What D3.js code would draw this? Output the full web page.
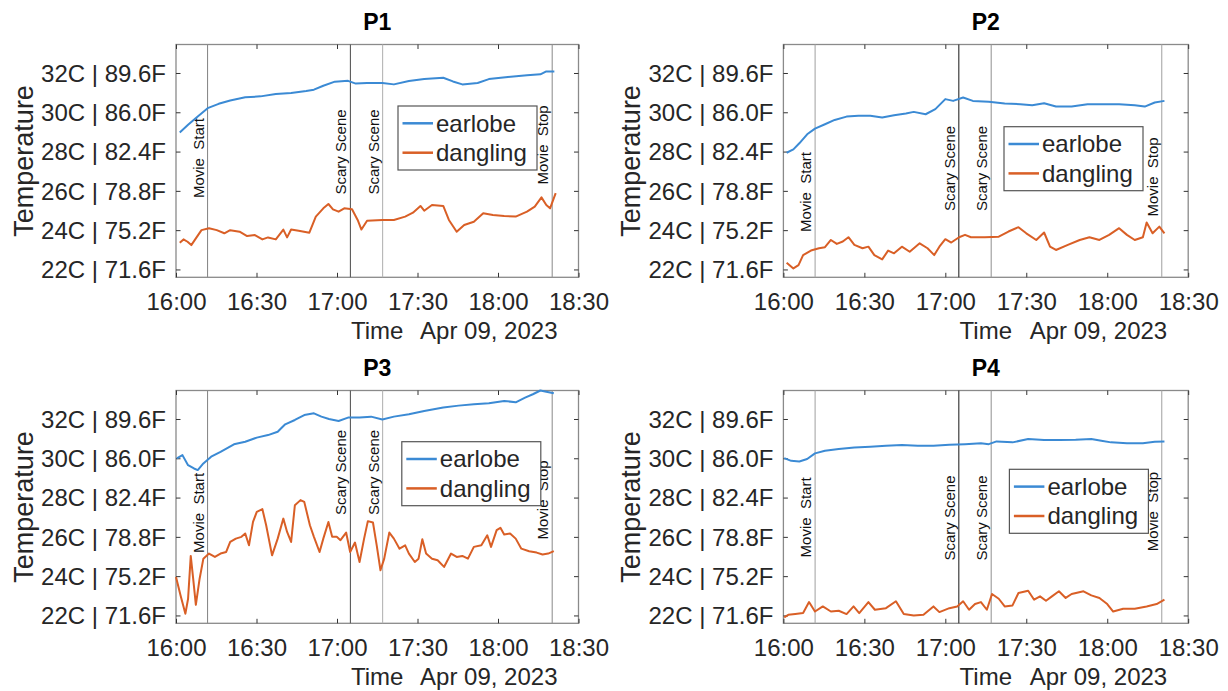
<!DOCTYPE html>
<html>
<head>
<meta charset="utf-8">
<script src="https://cdn.jsdelivr.net/npm/d3@7"></script>
<style>
  body { margin: 0; background: #fff; }
  text { font-family: "Liberation Sans", Arial, Helvetica, sans-serif; fill: #262626; }
</style>
</head>
<body>
<div id="chart"></div>
<script>
// ---- data (minutes after 16:00, temperature in C) ----
const p1EarMin  = [1.4,4.5,8.1,11.8,15.9,20.2,25.8,31.5,37.2,42.9,48.5,51.4,54.9,59.2,64.1,67,71.2,76.9,81.2,86.8,92.5,99.6,103.2,106.7,112.4,116.6,123.7,130.8,135.8,138,141];
const p1EarTemp = [28.97,29.36,29.79,30.21,30.43,30.6,30.76,30.81,30.93,30.98,31.08,31.15,31.35,31.56,31.6,31.46,31.49,31.49,31.42,31.59,31.69,31.76,31.57,31.42,31.49,31.69,31.8,31.88,31.93,32.08,32.08];
const p1DangMin  = [1.4,2.8,4.3,5.7,7.4,9.5,12.3,15.2,18,20.2,23.7,26.5,29.4,32.2,34.3,37.2,40,41.4,42.9,45.7,49.7,52.1,54.9,56.8,58.5,60.6,62.7,65.6,67.7,69.1,71.2,76.9,81.2,85.4,88.3,91.1,92.5,95.4,99.6,101.7,104.6,107.4,111,114.5,118.1,122.3,126.6,130.8,133.7,136.2,138,139.4,141.5];
const p1DangTemp = [23.36,23.53,23.41,23.24,23.58,24.0,24.1,24.0,23.84,24.0,23.92,23.7,23.75,23.53,23.63,23.53,24.03,23.63,24.03,23.97,23.87,24.69,25.11,25.33,25.06,24.94,25.11,25.06,24.52,24.03,24.48,24.52,24.52,24.69,24.89,25.23,24.99,25.28,25.23,24.52,23.92,24.26,24.43,24.86,24.77,24.72,24.69,24.94,25.2,25.67,25.28,25.11,25.88];

const p2EarMin  = [1.2,3.7,5.9,8.8,11.7,15.4,19,23.4,27.8,32.2,36.6,41,45.4,48.3,52.7,56.3,60,62.9,66.6,70.2,76.1,82,87.8,92.2,96.6,101,106.8,112.7,118.5,124.4,130.2,133.9,137.6,141.2];
const p2EarTemp = [27.94,28.11,28.42,28.88,29.17,29.39,29.61,29.78,29.82,29.82,29.73,29.85,29.94,30.02,29.9,30.16,30.67,30.58,30.75,30.58,30.53,30.45,30.41,30.36,30.46,30.29,30.29,30.41,30.41,30.41,30.36,30.29,30.5,30.58];
const p2DangMin  = [1.2,3.7,5.6,7.3,10.2,13.2,15.4,17.6,19.8,22,24.1,26.3,29.3,31.5,33.7,36.6,38.8,41,43.9,46.8,50.5,53.4,55.9,57.8,60,62.2,65.1,67.3,69.5,74.6,79.8,83.4,87.1,90,93.7,96.6,98.8,101,105.4,109.8,113.4,117.1,120.7,124.4,127.3,130.2,133.2,134.6,136.8,139.3,141.2];
const p2DangTemp = [22.34,22.05,22.22,22.73,22.96,23.08,23.13,23.5,23.3,23.42,23.64,23.25,23.08,23.16,22.73,22.51,22.96,22.82,23.16,22.9,23.33,23.08,22.73,23.16,23.54,23.37,23.64,23.76,23.64,23.64,23.67,23.93,24.15,23.84,23.5,23.88,23.16,22.99,23.25,23.5,23.64,23.5,23.76,24.1,23.76,23.5,23.64,24.39,23.84,24.18,23.84];

const p3EarMin  = [0.3,2.4,4.5,6.7,8.1,10.2,13.1,16.6,21.6,25.8,30.1,34.3,37.9,40.7,44.3,47.8,51.4,54.2,57,60.6,64.1,68.4,72.7,76.9,81.2,86.8,92.5,99.6,105.3,111,116.6,122.3,126.6,130.1,133,135.8,138,140.8];
const p3EarTemp = [29.99,30.16,29.65,29.48,29.4,29.74,30.08,30.33,30.71,30.84,31.05,31.18,31.35,31.73,31.95,32.2,32.29,32.12,32.0,31.9,32.07,32.07,32.12,31.97,32.12,32.24,32.41,32.58,32.68,32.75,32.8,32.92,32.85,33.09,33.26,33.45,33.39,33.31];
const p3DangMin  = [0,1.7,3.5,4.5,5.5,6.4,7.4,8.8,10.2,12.3,14.5,16.6,18.7,20.2,22.3,24.4,25.8,27.2,28.7,30.1,32.2,33.6,35.8,37.9,40,41.4,42.9,44.3,46.4,47.8,49.9,51.4,53.5,54.9,56.8,58.2,59.9,61.3,63.4,64.9,66.7,68.4,70.1,71.5,73.4,74.8,76.2,77.6,79.5,81.2,83.3,85.4,86.8,89,90.4,91.8,93.2,95.4,97.5,99.9,102.5,104.6,106.7,108.8,111,113.8,116,117.4,119.5,120.9,122.3,124.5,126.6,128.7,131.6,134.4,136.6,138.7,140.8];
const p3DangTemp = [23.96,23.02,22.09,22.85,25.03,23.87,22.54,23.87,24.89,25.15,24.98,25.15,25.23,25.74,25.91,26.0,26.17,25.57,26.76,27.27,27.41,26.59,25.06,25.91,26.93,26.25,25.74,27.61,27.87,27.78,26.59,26.0,25.23,25.91,26.76,26.0,26.0,25.83,26.22,25.23,25.71,24.72,25.91,26.8,26.73,25.57,24.3,24.89,26.22,25.91,25.4,25.57,25.15,24.72,24.89,25.88,25.15,24.89,24.81,24.47,25.15,24.98,25.03,24.89,25.49,25.57,26.08,25.49,26.34,26.46,26.12,26.17,25.91,25.4,25.27,25.2,25.1,25.15,25.27];

const p4EarMin  = [0.3,2.9,5.9,8.8,11.7,15.4,20.5,26.3,32.2,38,43.9,49.8,55.6,61.5,67.3,73.2,76.1,79,84.9,90.7,96.6,102.4,108.3,114.1,117.8,121.4,127.3,133.2,137.6,141.2];
const p4EarTemp = [30.01,29.87,29.84,29.96,30.25,30.38,30.47,30.55,30.59,30.64,30.67,30.64,30.64,30.69,30.72,30.76,30.72,30.86,30.81,30.98,30.93,30.93,30.94,30.98,30.89,30.81,30.77,30.77,30.84,30.86];
const p4DangMin  = [0.3,1.8,4.4,7.3,9.5,11.7,14.6,17.6,20.5,23.4,26,28.1,31.5,33.9,38,41.7,44.6,48.3,51.9,55.6,57.8,61.5,64.4,66.6,68.8,71,73.2,75.4,77.3,79.8,82,84.9,87.1,90.7,92.9,95.1,97.3,99.5,102.1,104.6,106.8,111.2,114.1,117.1,120,122.2,125.9,130.2,134.6,138.3,141.2];
const p4DangTemp = [21.9,22.03,22.07,22.12,22.68,22.2,22.46,22.2,22.24,22.07,22.46,22.12,22.68,22.29,22.37,22.72,22.07,22.0,22.03,22.46,22.17,22.37,22.46,22.72,22.29,22.58,22.68,22.29,23.09,22.85,22.46,22.51,23.14,23.26,22.8,22.97,22.75,22.97,23.23,22.89,23.09,23.23,23.02,22.89,22.58,22.2,22.34,22.34,22.46,22.58,22.8];

// events (minutes after 16:00)
const eventNames = ["Movie  Start", "Scary Scene", "Scary Scene", "Movie  Stop"];
const eventMin   = [11.75, 65, 77, 140.2];

// axis ticks
const yTicks      = [22, 24, 26, 28, 30, 32];
const yTickLabels = ["22C | 71.6F", "24C | 75.2F", "26C | 78.8F", "28C | 82.4F", "30C | 86.0F", "32C | 89.6F"];
const seriesNames = ["earlobe", "dangling"];

// ---- layout ----
const W = 1228, H = 691;
const colors = ["#3b8ad4", "#d95f26"];
const t0 = new Date(2023, 3, 9, 16, 0);
const toDate = m => new Date(t0.getTime() + m * 60000);

const panels = [
  {title: "P1", left: 176, top: 44.5, width: 402.5, height: 232.8, ear: [p1EarMin, p1EarTemp], dang: [p1DangMin, p1DangTemp],
   legend: [222, 61.5], labelT: [27.67, 27.98, 27.98, 28.34], lineCol: ["#8a8a8a", "#5a5a5a", "#b4b4b4", "#939393"]},
  {title: "P2", left: 783.4, top: 44.5, width: 404.8, height: 232.8, ear: [p2EarMin, p2EarTemp], dang: [p2DangMin, p2DangTemp],
   legend: [220.6, 82.2], labelT: [25.94, 27.14, 27.14, 26.71], lineCol: ["#a8a8a8", "#2a2a2a", "#9a9a9a", "#a8a8a8"]},
  {title: "P3", left: 176, top: 390.5, width: 402.5, height: 232.8, ear: [p3EarMin, p3EarTemp], dang: [p3DangMin, p3DangTemp],
   legend: [225.8, 51.2], labelT: [27.22, 29.28, 29.28, 27.88], lineCol: ["#8a8a8a", "#5a5a5a", "#b4b4b4", "#939393"]},
  {title: "P4", left: 783.4, top: 390.5, width: 404.8, height: 232.8, ear: [p4EarMin, p4EarTemp], dang: [p4DangMin, p4DangTemp],
   legend: [226, 78.8], labelT: [26.99, 26.96, 26.96, 27.29], lineCol: ["#a8a8a8", "#2a2a2a", "#9a9a9a", "#a8a8a8"]}
];

const svg = d3.select("#chart").append("svg")
  .attr("width", W).attr("height", H)
  .style("background", "#fff");

panels.forEach(p => {
  const g = svg.append("g").attr("transform", `translate(${p.left},${p.top})`);

  const x = d3.scaleTime().domain([toDate(0), toDate(150)]).range([0, p.width]);
  const y = d3.scaleLinear().domain([21.6, 33.45]).range([p.height, 0]);
  const xTicks = d3.range(0, 151, 30).map(toDate);

  // title
  g.append("text")
    .attr("x", p.width / 2).attr("y", -15)
    .attr("text-anchor", "middle")
    .style("font-size", "23px").style("font-weight", "bold")
    .style("fill", "#000")
    .text(p.title);

  // axes box
  g.append("rect")
    .attr("width", p.width).attr("height", p.height)
    .attr("fill", "none").attr("stroke", "#8a8a8a").attr("stroke-width", 1.3);

  // bottom axis
  const xAxis = g.append("g").attr("transform", `translate(0,${p.height})`)
    .call(d3.axisBottom(x).tickValues(xTicks).tickFormat(d3.timeFormat("%H:%M")).tickSizeInner(-4.5).tickSizeOuter(0));
  xAxis.selectAll("text").attr("y", 33).attr("dy", null).style("font-size", "24px");

  // top ticks
  g.append("g").call(d3.axisTop(x).tickValues(xTicks).tickFormat("").tickSizeInner(-4.5).tickSizeOuter(0));

  // left axis
  const yAxis = g.append("g")
    .call(d3.axisLeft(y).tickValues(yTicks).tickFormat((d, i) => yTickLabels[i]).tickSizeInner(-4.5).tickSizeOuter(0));
  yAxis.selectAll("text").attr("x", -10).attr("dy", "0.35em").style("font-size", "24px");

  // right ticks
  g.append("g").attr("transform", `translate(${p.width},0)`)
    .call(d3.axisRight(y).tickValues(yTicks).tickFormat("").tickSizeInner(-4.5).tickSizeOuter(0));

  g.selectAll(".domain").remove();
  g.selectAll(".tick line").attr("stroke", "#333");

  // axis labels
  g.append("text")
    .attr("transform", `translate(${-143},${p.height / 2}) rotate(-90)`)
    .attr("text-anchor", "middle")
    .style("font-size", "27px")
    .text("Temperature");

  g.append("text")
    .attr("x", p.width / 2).attr("y", p.height + 62)
    .attr("text-anchor", "middle")
    .style("font-size", "24px")
    .text("Time");

  g.append("text")
    .attr("x", p.width - 21).attr("y", p.height + 62)
    .attr("text-anchor", "end")
    .style("font-size", "24px")
    .text("Apr 09, 2023");

  // event lines
  eventMin.forEach((m, i) => {
    const ex = x(toDate(m));
    g.append("line")
      .attr("x1", ex).attr("x2", ex).attr("y1", 0).attr("y2", p.height)
      .attr("stroke", p.lineCol[i]).attr("stroke-width", 1.1);
    g.append("text")
      .attr("transform", `translate(${ex - 4},${y(p.labelT[i])}) rotate(-90)`)
      .attr("text-anchor", "middle")
      .style("font-size", "15px")
      .style("white-space", "pre")
      .style("fill", "#111")
      .text(eventNames[i]);
  });

  // data lines
  const line = d3.line().x(d => x(toDate(d[0]))).y(d => y(d[1]));
  [p.ear, p.dang].forEach((s, i) => {
    g.append("path")
      .datum(d3.zip(s[0], s[1]))
      .attr("d", line)
      .attr("fill", "none")
      .attr("stroke", colors[i])
      .attr("stroke-width", 2)
      .attr("stroke-linejoin", "round");
  });

  // legend
  const lg = g.append("g").attr("transform", `translate(${p.legend[0]},${p.legend[1]})`);
  lg.append("rect")
    .attr("width", 139).attr("height", 64)
    .attr("fill", "#fff").attr("stroke", "#555").attr("stroke-width", 1.2);
  seriesNames.forEach((name, i) => {
    const ry = 17.3 + i * 29.4;
    lg.append("line")
      .attr("x1", 4.5).attr("x2", 35).attr("y1", ry).attr("y2", ry)
      .attr("stroke", colors[i]).attr("stroke-width", 2.5);
    lg.append("text")
      .attr("x", 38).attr("y", ry + 8.5)
      .style("font-size", "24px")
      .text(name);
  });
});
</script>
</body>
</html>
